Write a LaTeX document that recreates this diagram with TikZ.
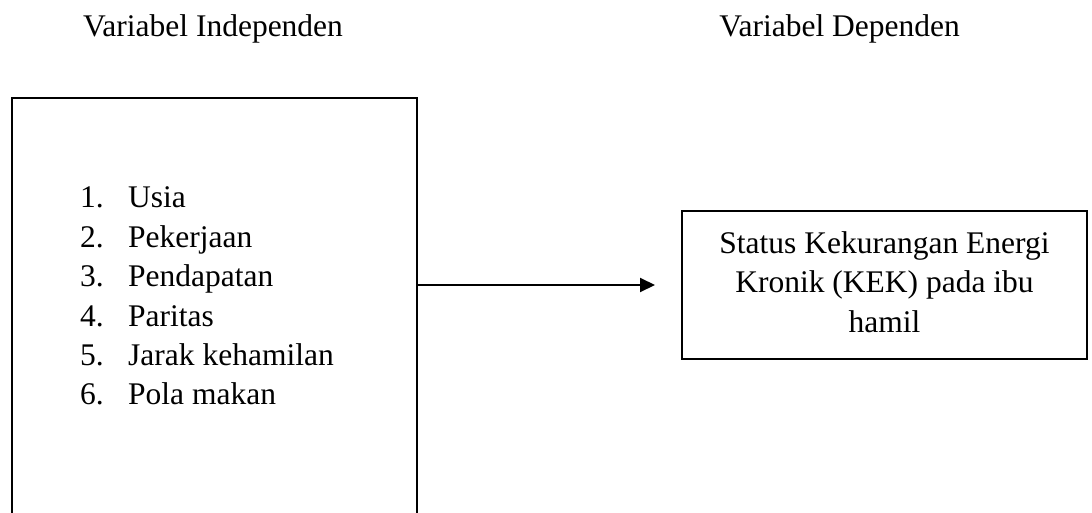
\documentclass[tikz,border=0pt]{standalone}
\usepackage{fontspec}
\setmainfont{Liberation Serif}
\usetikzlibrary{arrows.meta}
\begin{document}
\begin{tikzpicture}[x=1pt,y=-1pt,
  txt/.style={inner sep=0pt,font=\fontsize{31.5}{39.5}\selectfont},
  boxline/.style={line width=2.2pt},
  conn/.style={line width=2pt,-{Triangle[length=15pt,width=14pt]}}]
\useasboundingbox[fill=white] (0,0) rectangle (1092,513);
% headers
\node[txt,anchor=base west] (hind) at (83,37) {Variabel Independen};
\node[txt,anchor=base east] (hdep) at (960,37) {Variabel Dependen};
% left box (open at bottom)
\draw[boxline] (12,513) -- (12,98) -- (417,98) -- (417,513);
\coordinate (lout) at (417,285);
% list
\foreach \n/\t [count=\i from 0] in {1/Usia,2/Pekerjaan,3/Pendapatan,4/Paritas,5/Jarak kehamilan,6/Pola makan}{
  \node[txt,anchor=base west] (num\n) at (80,207.7+39.45*\i) {\n.};
  \node[txt,anchor=base west] (item\n) at (128,207.7+39.45*\i) {\t};
}
% right box
\node[boxline,draw,minimum width=405pt,minimum height=148pt,inner sep=0pt] (dep) at (884.5,285) {};
\node[txt,anchor=base] (d1) at (884.5,253) {Status Kekurangan Energi};
\node[txt,anchor=base] (d2) at (884.5,292.5) {Kronik (KEK) pada ibu};
\node[txt,anchor=base] (d3) at (884.5,332) {hamil};
\coordinate (tip) at (655,285);
\draw[conn] (lout) -- (tip);
\end{tikzpicture}
\end{document}
